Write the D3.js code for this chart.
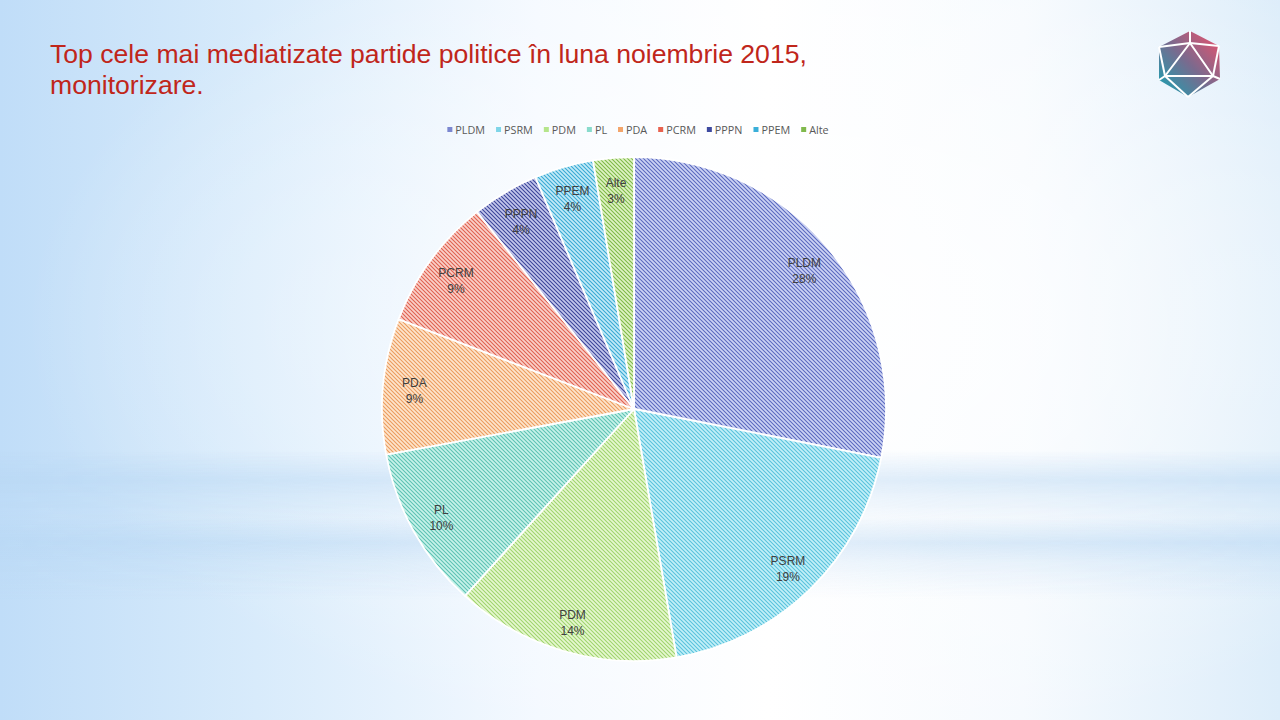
<!DOCTYPE html>
<html>
<head>
<meta charset="utf-8">
<script src="https://cdn.jsdelivr.net/npm/d3@7"></script>
<style>
html,body{margin:0;padding:0;width:1280px;height:720px;overflow:hidden;background:#fff;}
svg{display:block;}
</style>
</head>
<body>
<svg id="chart" width="1280" height="720"></svg>
<script>
// ---- data ----
const categories = ["PLDM","PSRM","PDM","PL","PDA","PCRM","PPPN","PPEM","Alte"];
const values = [28.1, 19.2, 14.4, 10.4, 8.7, 8.5, 4.3, 3.8, 2.6];
const titleLines = ["Top cele mai mediatizate partide politice în luna noiembrie 2015,", "monitorizare."];

// ---- styles ----
const lineColors = ["#5a68bf","#57c2dc","#9fd46c","#5cc2b2","#ec9a5c","#e0604f","#3b4499","#37a9d3","#7db845"];
const bgColors   = ["#ccd3f4","#c2eff8","#e6f7d0","#c7f2ea","#fde5cc","#fad0c8","#c3c7ec","#c2eaf8","#dff3c4"];
const legendColors = ["#7b87d0","#7ed5e8","#b5e58b","#88dbcc","#f3a56b","#e8624f","#3e4aa0","#3aafd9","#80b94c"];

const svg = d3.select("#chart");
const W = 1280, H = 720;
const defs = svg.append("defs");

// background gradients
const gH = defs.append("linearGradient").attr("id","bgH").attr("x1","0").attr("x2","1").attr("y1","0").attr("y2","0");
gH.append("stop").attr("offset","0").attr("stop-color","#c0ddf8");
gH.append("stop").attr("offset","0.2").attr("stop-color","#d8ebfb");
gH.append("stop").attr("offset","0.42").attr("stop-color","#f4f9ff");
gH.append("stop").attr("offset","0.6").attr("stop-color","#ffffff");
gH.append("stop").attr("offset","0.8").attr("stop-color","#f6fafe");
gH.append("stop").attr("offset","1").attr("stop-color","#ddedfa");

const gTop = defs.append("radialGradient").attr("id","bgTop").attr("cx","0.62").attr("cy","0.45").attr("r","0.6");
gTop.append("stop").attr("offset","0").attr("stop-color","#ffffff").attr("stop-opacity",0.9);
gTop.append("stop").attr("offset","0.55").attr("stop-color","#ffffff").attr("stop-opacity",0.4);
gTop.append("stop").attr("offset","1").attr("stop-color","#ffffff").attr("stop-opacity",0);

const gBand = defs.append("linearGradient").attr("id","bgBand").attr("x1","0").attr("x2","0").attr("y1","0").attr("y2","1");
[[0,0],[0.2,0.5],[0.32,0.28],[0.45,0.12],[0.62,0.55],[0.75,0.28],[0.88,0.12],[1,0]].forEach(([o,a])=>{
  gBand.append("stop").attr("offset",o).attr("stop-color","#b6d6f3").attr("stop-opacity",a);
});
const gBandMask = defs.append("linearGradient").attr("id","bandFade").attr("x1","0").attr("x2","1").attr("y1","0").attr("y2","0");
gBandMask.append("stop").attr("offset","0").attr("stop-color","#fff").attr("stop-opacity",1);
gBandMask.append("stop").attr("offset","0.3").attr("stop-color","#fff").attr("stop-opacity",0.9);
gBandMask.append("stop").attr("offset","0.5").attr("stop-color","#fff").attr("stop-opacity",0.6);
gBandMask.append("stop").attr("offset","0.75").attr("stop-color","#fff").attr("stop-opacity",0.9);
gBandMask.append("stop").attr("offset","1").attr("stop-color","#fff").attr("stop-opacity",1);
defs.append("mask").attr("id","bandMask").append("rect").attr("x",0).attr("y",0).attr("width",W).attr("height",H).attr("fill","url(#bandFade)");

svg.append("rect").attr("width",W).attr("height",H).attr("fill","url(#bgH)");
svg.append("rect").attr("width",W).attr("height",H).attr("fill","url(#bgTop)");
svg.append("rect").attr("x",0).attr("y",450).attr("width",W).attr("height",150).attr("fill","url(#bgBand)").attr("mask","url(#bandMask)");

// hatch patterns
categories.forEach((c,i)=>{
  const p = defs.append("pattern").attr("id","hatch"+i).attr("patternUnits","userSpaceOnUse")
    .attr("width",4).attr("height",4);
  p.append("rect").attr("width",4).attr("height",4).attr("fill",bgColors[i]);
  p.append("path").attr("d","M0,0 L4,4 M-1,3 L1,5 M3,-1 L5,1")
    .attr("stroke",lineColors[i]).attr("stroke-width",1.05).attr("fill","none");
});

// title
const title = svg.append("text").attr("x",50).attr("y",63)
  .attr("font-family","'Liberation Sans', Arial, sans-serif").attr("font-size",26.6).attr("fill","#c0261b");
titleLines.forEach((t,i)=>{
  title.append("tspan").attr("x",50).attr("y",63 + i*31).text(t);
});

// logo
const logo = defs.append("linearGradient").attr("id","logoGrad").attr("x1","1").attr("y1","0").attr("x2","0").attr("y2","1");
logo.append("stop").attr("offset","0").attr("stop-color","#f2506a");
logo.append("stop").attr("offset","0.5").attr("stop-color","#7a6a8e");
logo.append("stop").attr("offset","1").attr("stop-color","#12a6b4");
const L = svg.append("g");
const outer = [[1190,31],[1219,46],[1220,79],[1188,97],[1159,80],[1159,47]];
L.append("polygon").attr("points",outer.map(p=>p.join(",")).join(" ")).attr("fill","url(#logoGrad)");
const tri = [[1190,43],[1213,76],[1165,76]];
const ls = L.append("g").attr("stroke","#ffffff").attr("stroke-width",2).attr("fill","none").attr("stroke-linejoin","round");
ls.append("polygon").attr("points",tri.map(p=>p.join(",")).join(" "));
[[outer[0],tri[0]],[outer[1],tri[0]],[outer[5],tri[0]],[outer[1],tri[1]],[outer[2],tri[1]],[outer[3],tri[1]],[outer[3],tri[2]],[outer[4],tri[2]],[outer[5],tri[2]]]
  .forEach(([a,b])=>ls.append("line").attr("x1",a[0]).attr("y1",a[1]).attr("x2",b[0]).attr("y2",b[1]));

// pie
const cx = 634, cy = 409, R = 252;
const pie = d3.pie().sort(null).value(d=>d.v);
const data = categories.map((c,i)=>({c, v: values[i], i}));
const arcs = pie(data);
const arc = d3.arc().innerRadius(0).outerRadius(R);
const labelArc = d3.arc().innerRadius(R*0.875).outerRadius(R*0.875);
const total = d3.sum(values);
const g = svg.append("g").attr("transform",`translate(${cx},${cy})`);
g.selectAll("path.slice").data(arcs).join("path").attr("class","slice")
  .attr("d",arc).attr("fill",d=>`url(#hatch${d.data.i})`)
  .attr("stroke","#ffffff").attr("stroke-width",1.8).attr("stroke-linejoin","round");

const lbl = g.selectAll("text.lbl").data(arcs).join("text").attr("class","lbl")
  .attr("transform",d=>`translate(${labelArc.centroid(d)})`)
  .attr("text-anchor","middle")
  .attr("font-family","'Liberation Sans', Arial, sans-serif").attr("font-size",12).attr("fill","#404040");
lbl.append("tspan").attr("x",0).attr("y",-2).text(d=>d.data.c);
lbl.append("tspan").attr("x",0).attr("y",14).text(d=>Math.round(d.data.v/total*100)+"%");

// legend
const leg = svg.append("g").attr("font-family","'Open Sans', 'DejaVu Sans', sans-serif").attr("font-size",10.8).attr("fill","#595959");
let x = 0;
const items = [];
const gap = 11;
categories.forEach((c,i)=>{
  const it = leg.append("g");
  it.append("rect").attr("x",0).attr("y",-3).attr("width",5).attr("height",5).attr("fill",legendColors[i]);
  const t = it.append("text").attr("x",8).attr("y",0).attr("dy","0.35em").text(c);
  const w = 8 + t.node().getComputedTextLength();
  items.push({it, x, w});
  x += w + gap;
});
const totalW = x - gap;
const startX = 638 - totalW/2;
items.forEach(d=>d.it.attr("transform",`translate(${startX + d.x},130)`));
</script>
</body>
</html>
